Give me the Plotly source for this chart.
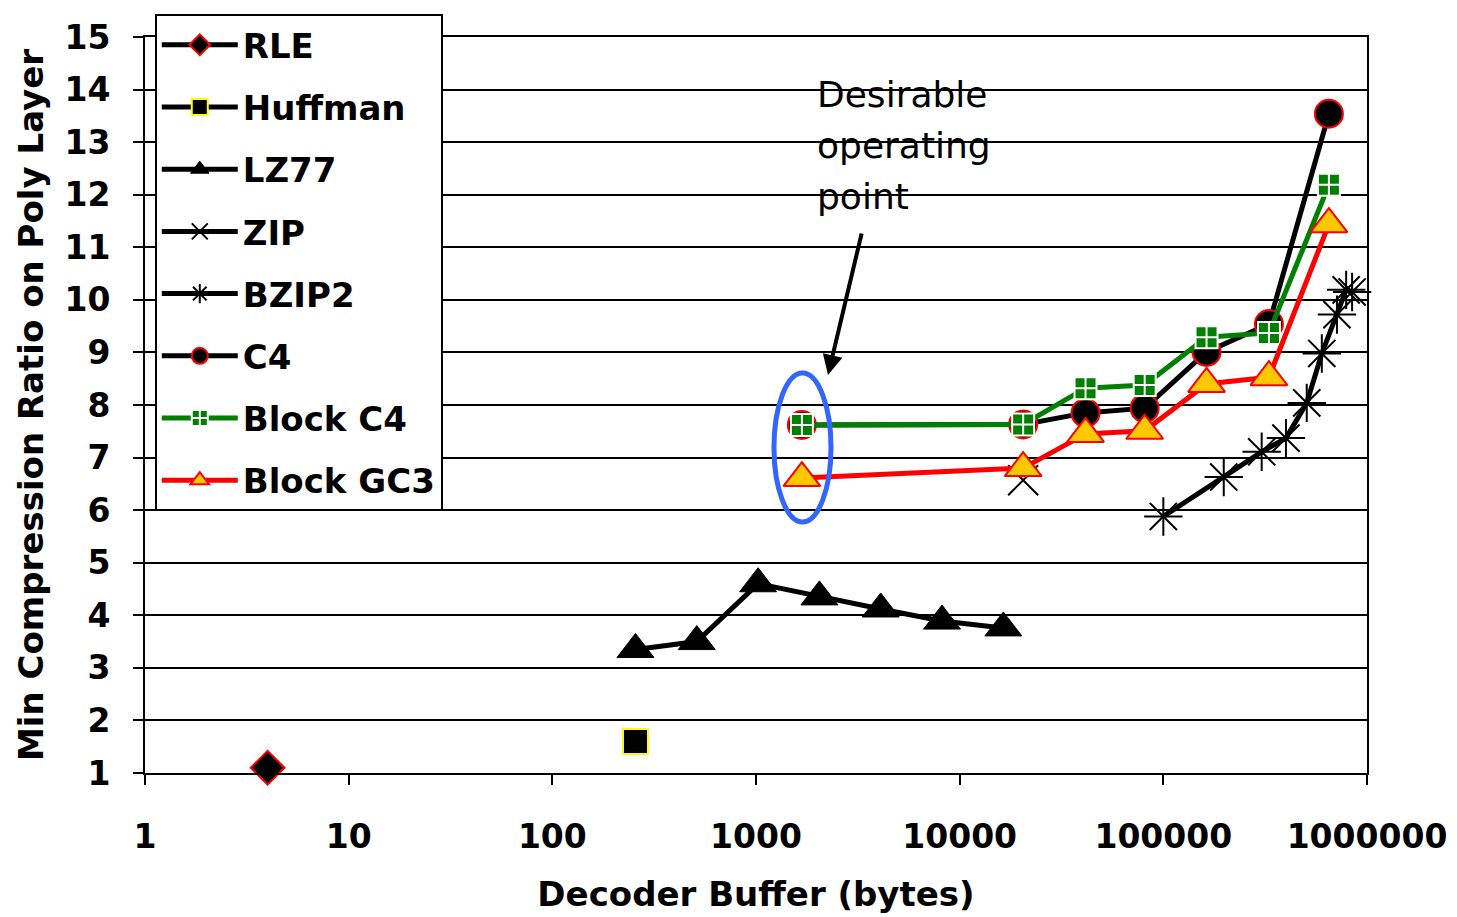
import plotly.graph_objects as go

# ---------------- data ----------------
rle_x = [4]
rle_y = [1.1]

huff_x = [256]
huff_y = [1.6]

lz77_x = [256, 512, 1024, 2048, 4096, 8192, 16384]
lz77_y = [3.35, 3.5, 4.6, 4.35, 4.12, 3.89, 3.76]

zip_x = [20500]
zip_y = [6.57]

bzip2_x = [100000, 198000, 304000, 400000, 506000, 600000, 712000, 790000, 845000]
bzip2_y = [5.88, 6.63, 7.11, 7.37, 8.04, 8.98, 9.72, 10.19, 10.15]

c4_x = [1680, 20500, 41500, 81000, 163000, 330000, 650000]
c4_y = [7.62, 7.63, 7.85, 7.94, 9.01, 9.54, 13.54]

bc4_x = [1680, 20500, 41500, 81000, 163000, 330000, 650000]
bc4_y = [7.62, 7.63, 8.32, 8.38, 9.29, 9.37, 12.19]

bgc3_x = [1680, 20500, 41500, 81000, 163000, 330000, 650000]
bgc3_y = [6.61, 6.80, 7.45, 7.51, 8.40, 8.53, 11.44]

x_tickvals = [1, 10, 100, 1000, 10000, 100000, 1000000]
x_ticktext = ["1", "10", "100", "1000", "10000", "100000", "1000000"]
y_tickvals = list(range(1, 16))

annot_lines = ["Desirable", "operating", "point"]

# ---------------- figure ----------------
FONT = "DejaVu Sans"
fig = go.Figure()

def add(name, xs, ys, symbol, size, fill, lcolor, lwidth, linecolor):
    fig.add_trace(go.Scatter(
        x=xs, y=ys, name=name, mode="lines+markers", legendgroup=name,
        line=dict(color=linecolor, width=5),
        marker=dict(symbol=symbol, size=size, color=fill,
                    line=dict(color=lcolor, width=lwidth)),
        cliponaxis=False,
    ))

add("RLE", rle_x, rle_y, "diamond", 26, "black", "red", 2, "black")
add("Huffman", huff_x, huff_y, "square", 25, "black", "#FFFF00", 2, "black")
add("LZ77", lz77_x, lz77_y, "triangle-up", 32, "black", "black", 1, "black")
add("ZIP", zip_x, zip_y, "x-thin", 30, "black", "black", 2, "black")
add("BZIP2", bzip2_x, bzip2_y, "asterisk", 32, "black", "black", 2, "black")
add("C4", c4_x, c4_y, "circle", 28, "black", "red", 2, "black")
add("Block C4", bc4_x, bc4_y, "square-cross", 22, "#008000", "white", 2, "#008000")
add("Block GC3", bgc3_x, bgc3_y, "triangle-up", 32, "#FFC800", "red", 2, "red")

axis_font = dict(family=FONT, size=33, color="black", weight="bold")

# page body adds an 8px offset; figure is sized/margined to compensate
fig.update_layout(
    width=1449, height=909,
    margin=dict(l=137, r=90, t=29, b=144, autoexpand=False),
    paper_bgcolor="white", plot_bgcolor="white",
    font=dict(family=FONT, color="black"),
    showlegend=True,
    legend=dict(
        x=0.008, y=1.031, xanchor="left", yanchor="top",
        bgcolor="white", bordercolor="black", borderwidth=2,
        font=dict(family=FONT, size=34, color="black", weight="bold"),
        itemwidth=76, tracegroupgap=15, traceorder="grouped",
        maxheight=700,
    ),
    xaxis=dict(
        type="log", range=[0, 6],
        tickvals=x_tickvals, ticktext=x_ticktext,
        tickfont=axis_font, ticks="outside", ticklen=10, tickwidth=2, tickcolor="black",
        showline=True, linecolor="black", linewidth=2, mirror=True,
        showgrid=False, zeroline=False, ticklabelstandoff=23,
        title=dict(text="Decoder Buffer (bytes)", font=dict(family=FONT, size=34, color="black", weight="bold"), standoff=28),
    ),
    yaxis=dict(
        range=[1, 15], tickvals=y_tickvals,
        tickfont=axis_font, ticks="outside", ticklen=10, tickwidth=2, tickcolor="black",
        showline=True, linecolor="black", linewidth=2, mirror=True,
        showgrid=True, gridcolor="black", gridwidth=2, zeroline=False,
        ticklabelstandoff=16,
        title=dict(text="Min Compression Ratio on Poly Layer", font=dict(family=FONT, size=34, color="black", weight="bold"), standoff=11),
    ),
)

# ellipse marking desirable operating point (paper coords)
fig.add_shape(type="circle", xref="paper", yref="paper",
              x0=0.5147, x1=0.5614, y0=0.341, y1=0.5435,
              line=dict(color="#3366FF", width=5))

# annotation text
for i, t in enumerate(annot_lines):
    fig.add_annotation(xref="paper", yref="paper", x=(815 - 145) / 1222,
                       y=(773 - (94 + i * 51)) / 736, text=t, showarrow=False,
                       xanchor="left", yanchor="middle",
                       font=dict(family=FONT, size=36, color="black"))

# arrow
fig.add_annotation(xref="paper", yref="paper", x=(828 - 145) / 1222, y=(773 - 375) / 736,
                   ax=34, ay=-143, text="", showarrow=True,
                   arrowhead=2, arrowsize=1, arrowwidth=4, arrowcolor="black")

fig.write_html("out.html")
